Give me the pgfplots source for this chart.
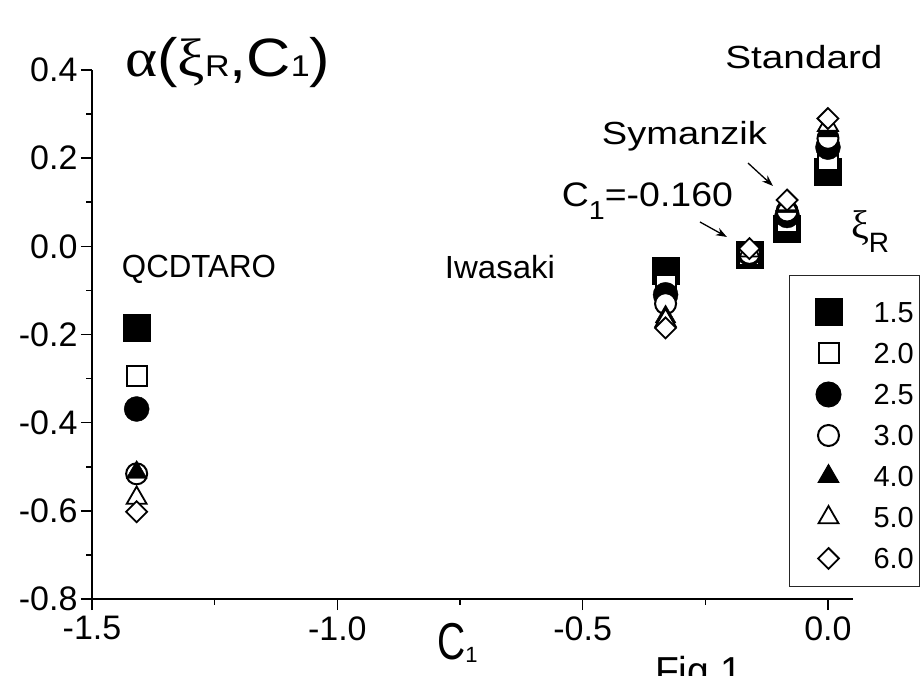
\documentclass[border=0pt]{standalone}
\usepackage{fontspec}
\setmainfont{Liberation Sans}
\newfontfamily\grk{Liberation Serif}
\usepackage{graphicx}
\usepackage{pgfplots}
\pgfplotsset{compat=1.18}
\usetikzlibrary{arrows.meta}
\begin{document}
\begin{tikzpicture}
\useasboundingbox (0,0) rectangle (921pt,675pt);
\begin{axis}[
  at={(92pt,76pt)}, anchor=south west,
  scale only axis, width=760.5pt, height=529pt,
  xmin=-1.5, xmax=0.05, ymin=-0.8, ymax=0.4,
  axis lines=left, axis line style={-, line width=2pt},
  xtick={-1.5,-1,-0.5,0}, xticklabels={-1.5,-1.0,-0.5,0.0},
  ytick={-0.8,-0.6,-0.4,-0.2,0,0.2,0.4},
  yticklabels={-0.8,-0.6,-0.4,-0.2,0.0,0.2,0.4},
  minor xtick={-1.25,-0.75,-0.25},
  minor ytick={-0.7,-0.5,-0.3,-0.1,0.1,0.3},
  tick align=outside, major tick length=11pt, minor tick length=5.5pt,
  major tick style={black, line width=1.6pt},
  minor tick style={black, line width=1.6pt},
  ticklabel style={font=\fontsize{34}{40}\selectfont},
  xticklabel style={yshift=-3pt},
  clip=false,
  legend style={at={(0.9165,0.6125)}, anchor=north west, draw=black!85, line width=1pt,
    fill=white, inner xsep=5.5pt, inner ysep=12pt, row sep=0pt,
    nodes={inner sep=0pt, text depth=0pt, draw=none}, cells={anchor=west},
    font=\fontsize{29}{34}\selectfont},
  mylegend/.style={legend image code/.code={\draw[##1] plot coordinates {(33.5pt,0pt)}; \path[draw=none, fill=none] (0pt,-16pt) rectangle (78.5pt,25pt);}},
]
% series: xi_R = 1.5, 2.0, 2.5, 3.0, 4.0, 5.0, 6.0 ; C1 = QCDTARO, Iwasaki, -0.160, Symanzik, Standard
\addplot[only marks, mylegend, mark=square*, mark size=13.5pt, black] coordinates
  {(-1.409,-0.185) (-0.331,-0.056) (-0.160,-0.018) (-0.0833,0.040) (0,0.170)};
\addplot[only marks, mylegend, mark=square*, mark size=10pt, mark options={draw=black, fill=white, line width=2pt}] coordinates
  {(-1.409,-0.294) (-0.331,-0.088) (-0.160,-0.020) (-0.0833,0.055) (0,0.195)};
\addplot[only marks, mylegend, mark=*, mark size=12.5pt, black] coordinates
  {(-1.409,-0.369) (-0.331,-0.110) (-0.160,-0.016) (-0.0833,0.070) (0,0.225)};
\addplot[only marks, mylegend, mark=*, mark size=10.5pt, mark options={draw=black, fill=white, line width=2pt}] coordinates
  {(-1.409,-0.516) (-0.331,-0.130) (-0.160,-0.016) (-0.0833,0.080) (0,0.245)};
\addplot[only marks, mylegend, mark=triangle*, mark size=12pt, black] coordinates
  {(-1.409,-0.513) (-0.331,-0.160) (-0.160,-0.010) (-0.0833,0.090) (0,0.262)};
\addplot[only marks, mylegend, mark=triangle*, mark size=11.5pt, mark options={draw=black, fill=white, line width=1.8pt}] coordinates
  {(-1.409,-0.571) (-0.331,-0.168) (-0.160,-0.010) (-0.0833,0.095) (0,0.275)};
\addplot[only marks, mylegend, mark=square*, mark size=7.4pt, mark options={rotate=45, draw=black, fill=white, line width=1.8pt}] coordinates
  {(-1.409,-0.602) (-0.331,-0.185) (-0.160,-0.005) (-0.0833,0.105) (0,0.290)};
\legend{1.5,2.0,2.5,3.0,4.0,5.0,6.0}

\node[anchor=base] at (axis cs:-0.049,0.4045) {\fontsize{32}{38}\selectfont\resizebox{157pt}{\height}{Standard}};
\node[anchor=base] at (axis cs:-0.2925,0.230) {\fontsize{32}{38}\selectfont\resizebox{165pt}{\height}{Symanzik}};
\node[anchor=base] at (axis cs:-0.368,0.0893) {\fontsize{34}{40}\selectfont\resizebox{171pt}{\height}{C\raisebox{-13pt}{\fontsize{26}{30}\selectfont 1}=-0.160}};
\node[anchor=base] at (axis cs:-0.6685,-0.074) {\fontsize{32}{38}\selectfont\resizebox{110pt}{\height}{Iwasaki}};
\node[anchor=base] at (axis cs:-1.282,-0.0717) {\fontsize{32}{38}\selectfont\resizebox{154pt}{\height}{QCDTARO}};
\node[anchor=base west, inner sep=0pt] at (axis cs:0.0468,0.0168) {{\fontsize{40}{48}\selectfont\grk ξ}\raisebox{-14pt}{\fontsize{28}{32}\selectfont R}};
\node[anchor=base west, inner sep=0pt] at (axis cs:-1.4327,0.386) {\fontsize{54}{62}\selectfont\resizebox{205pt}{\height}{{\grk α}({\grk ξ}{\fontsize{30}{36}\selectfont R},C{\fontsize{30}{36}\selectfont 1})}};
\node[anchor=base west, inner sep=0pt] at (axis cs:-0.797,-0.938) {\scalebox{1}[1.33]{\fontsize{39}{46}\selectfont C}\raisebox{-3pt}{\fontsize{22}{26}\selectfont 1}};
\node[anchor=base west, inner sep=0pt] at (axis cs:-0.3527,-0.9946) {\fontsize{39}{46}\selectfont Fig.1};
\draw[line width=1.3pt, -{Stealth[length=11pt,width=8pt]}] (axis cs:-0.163,0.189) -- (axis cs:-0.1122,0.137);
\draw[line width=1.3pt, -{Stealth[length=11pt,width=8pt]}] (axis cs:-0.261,0.0553) -- (axis cs:-0.206,0.0213);
\end{axis}
\end{tikzpicture}
\end{document}
